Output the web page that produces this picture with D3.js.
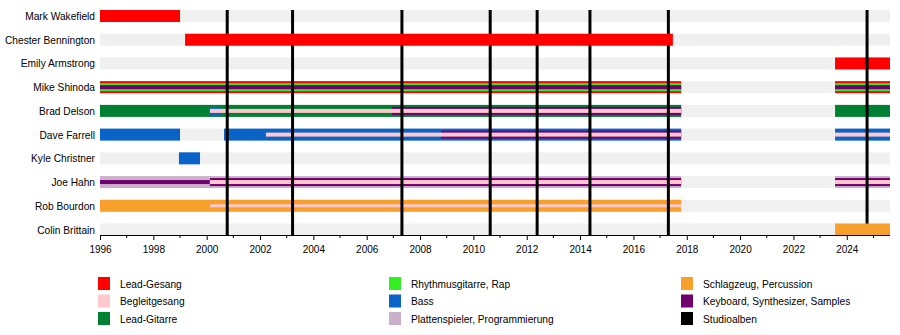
<!DOCTYPE html>
<html>
<head>
<meta charset="utf-8">
<script src="https://cdn.jsdelivr.net/npm/d3@7"></script>
<style>
  html, body { margin: 0; padding: 0; background: #fff; }
  svg { display: block; font-family: "Liberation Sans", Arial, sans-serif; }
</style>
</head>
<body>
<svg id="chart" width="900" height="335"></svg>
<script>
// ---------- DATA ----------
const members = ["Mark Wakefield", "Chester Bennington", "Emily Armstrong", "Mike Shinoda",
  "Brad Delson", "Dave Farrell", "Kyle Christner", "Joe Hahn", "Rob Bourdon", "Colin Brittain"];

const periodStart = 1996;
const periodEnd = 2025.62;

const tickYears = [1996, 1998, 2000, 2002, 2004, 2006, 2008, 2010, 2012, 2014, 2016, 2018, 2020, 2022, 2024];

// roles: key, legend label, colour
const roles = [
  ["lead", "Lead-Gesang", "#ff0000"],
  ["backing", "Begleitgesang", "#ffc8cc"],
  ["leadguitar", "Lead-Gitarre", "#008033"],
  ["rhythm", "Rhythmusgitarre, Rap", "#33ee22"],
  ["bass", "Bass", "#0a64c8"],
  ["turntables", "Plattenspieler, Programmierung", "#cbb0cc"],
  ["drums", "Schlagzeug, Percussion", "#f8a02c"],
  ["keys", "Keyboard, Synthesizer, Samples", "#700070"],
  ["albums", "Studioalben", "#000000"]
];

// bars: [member, from, till, role, layer]  (layer 0 = full bar, 1 = middle stripe, 2 = inner stripe)
const leadVocalBars = [
  ["Mark Wakefield", 1996, 1999.0, "lead", 0],
  ["Chester Bennington", 1999.19, 2017.48, "lead", 0],
  ["Emily Armstrong", 2023.56, 2025.62, "lead", 0],
  ["Mike Shinoda", 1996, 2017.79, "lead", 0],
  ["Mike Shinoda", 2023.56, 2025.62, "lead", 0]
];
const guitarBars = [
  ["Brad Delson", 1996, 2017.79, "leadguitar", 0],
  ["Brad Delson", 2023.56, 2025.62, "leadguitar", 0],
  ["Mike Shinoda", 1996, 2017.79, "rhythm", 1],
  ["Mike Shinoda", 2023.56, 2025.62, "rhythm", 1]
];
const bassBars = [
  ["Dave Farrell", 1996, 1999.0, "bass", 0],
  ["Dave Farrell", 2000.65, 2017.79, "bass", 0],
  ["Dave Farrell", 2023.56, 2025.62, "bass", 0],
  ["Kyle Christner", 1998.96, 1999.75, "bass", 0],
  ["Brad Delson", 2000.12, 2000.55, "bass", 1]
];
const turntableBars = [
  ["Joe Hahn", 1996, 2017.79, "turntables", 0],
  ["Joe Hahn", 2023.56, 2025.62, "turntables", 0]
];
const drumBars = [
  ["Rob Bourdon", 1996, 2017.79, "drums", 0],
  ["Colin Brittain", 2023.56, 2025.62, "drums", 0]
];
const keyboardBars = [
  ["Mike Shinoda", 1996, 2017.79, "keys", 2],
  ["Mike Shinoda", 2023.56, 2025.62, "keys", 2],
  ["Brad Delson", 2006.95, 2017.79, "keys", 1],
  ["Dave Farrell", 2008.79, 2017.79, "keys", 1],
  ["Joe Hahn", 1996, 2000.12, "keys", 2],
  ["Joe Hahn", 2000.12, 2017.79, "keys", 1],
  ["Joe Hahn", 2023.56, 2025.62, "keys", 1]
];
const backingVocalBars = [
  ["Brad Delson", 2000.12, 2017.79, "backing", 2],
  ["Dave Farrell", 2002.22, 2017.79, "backing", 2],
  ["Dave Farrell", 2023.56, 2025.62, "backing", 2],
  ["Joe Hahn", 2000.12, 2017.79, "backing", 2],
  ["Joe Hahn", 2023.56, 2025.62, "backing", 2],
  ["Rob Bourdon", 2000.12, 2017.79, "backing", 3]
];

// studio albums (release positions)
const albumNames = ["Hybrid Theory", "Meteora", "Minutes to Midnight", "A Thousand Suns",
  "Living Things", "The Hunting Party", "One More Light", "From Zero"];
const albumDates = [2000.77, 2003.22, 2007.32, 2010.63, 2012.39, 2014.37, 2017.31, 2024.76];

// ---------- STYLE / LAYOUT ----------
const colorOf = Object.fromEntries(roles.map(r => [r[0], r[2]]));
const layerWidth = {0: 12, 1: 8, 2: 4, 3: 3};
// rows whose bars are painted over the album lines
const rowsAboveLines = ["Chester Bennington", "Colin Brittain"];

const svg = d3.select("#chart");
const x = d3.scaleLinear().domain([periodStart, periodEnd]).range([100, 890]);
const y = d3.scalePoint().domain(members).range([16, 229.5]);

// background shading rows
svg.append("g").selectAll("rect").data(members).join("rect")
  .attr("x", x(periodStart)).attr("width", x(periodEnd) - x(periodStart))
  .attr("y", d => y(d) - 6).attr("height", 12)
  .attr("fill", "#f0f0f0");

const allBars = [].concat(leadVocalBars, guitarBars, bassBars, turntableBars, drumBars,
  keyboardBars, backingVocalBars)
  .map((d, i) => ({member: d[0], from: d[1], till: d[2], role: d[3], layer: d[4], i}))
  .sort((a, b) => a.layer - b.layer || a.i - b.i);

function drawBars(g, data) {
  g.selectAll("rect").data(data).join("rect")
    .attr("x", d => x(d.from))
    .attr("width", d => x(d.till) - x(d.from))
    .attr("y", d => y(d.member) - layerWidth[d.layer] / 2)
    .attr("height", d => layerWidth[d.layer])
    .attr("fill", d => colorOf[d.role]);
}

drawBars(svg.append("g"), allBars.filter(d => !rowsAboveLines.includes(d.member)));

// album lines
svg.append("g").selectAll("line").data(albumDates).join("line")
  .attr("x1", d => x(d)).attr("x2", d => x(d))
  .attr("y1", 10).attr("y2", 235)
  .attr("stroke", "#000").attr("stroke-width", 3);

drawBars(svg.append("g"), allBars.filter(d => rowsAboveLines.includes(d.member)));

// member labels
svg.append("g").selectAll("text").data(members).join("text")
  .attr("x", 95).attr("y", d => y(d) + 4)
  .attr("text-anchor", "end")
  .attr("font-size", 10.2)
  .attr("fill", "#000")
  .text(d => d);

// time axis
const axisG = svg.append("g").attr("transform", "translate(0,235)");
const majorAxis = d3.axisBottom(x).tickValues(tickYears).tickFormat(d3.format("d")).tickSize(5).tickPadding(6);
axisG.call(majorAxis);
const minorYears = d3.range(1997, 2026, 2);
axisG.append("g").selectAll("line").data(minorYears).join("line")
  .attr("x1", d => x(d)).attr("x2", d => x(d))
  .attr("y1", 0).attr("y2", 3).attr("stroke", "#000");
axisG.select(".domain").attr("d", `M${x(periodStart)},0.5H${x(periodEnd)}`);
axisG.selectAll("text").attr("font-size", 10).attr("font-family", "Liberation Sans, Arial, sans-serif").attr("fill", "#000");
axisG.selectAll(".tick line").attr("stroke", "#000");

// legend
const legendCols = [98, 389, 681];
const legendRowY = [283.5, 301, 318.5];
const legend = svg.append("g").selectAll("g").data(roles).join("g")
  .attr("transform", (d, i) => `translate(${legendCols[Math.floor(i / 3)]},${legendRowY[i % 3]})`);
legend.append("rect").attr("x", 0).attr("y", -6.5).attr("width", 12).attr("height", 13)
  .attr("fill", d => d[2]);
legend.append("text").attr("x", 22).attr("y", 4).attr("font-size", 10.2).attr("fill", "#000")
  .text(d => d[1]);
</script>
</body>
</html>
